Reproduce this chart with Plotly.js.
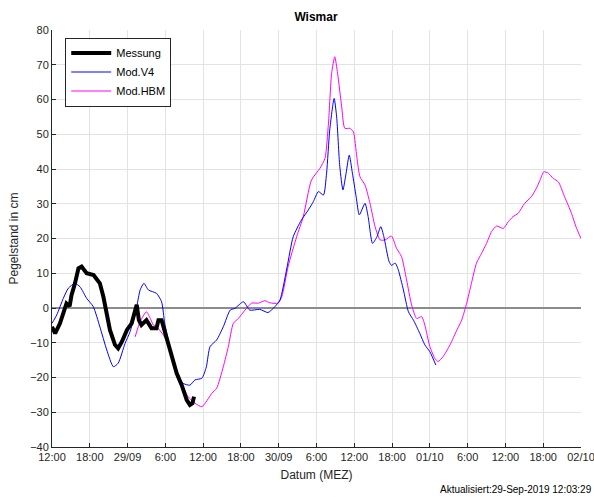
<!DOCTYPE html>
<html>
<head>
<meta charset="utf-8">
<script src="https://cdn.plot.ly/plotly-3.0.1.min.js"></script>
<style>html,body{margin:0;padding:0;background:#fff;}#chart{width:594px;height:497px;}</style>
</head>
<body>
<div id="chart"></div>
<script>
// hours since 28/09 12:00 (MEZ)
var tickHours = [0,6,12,18,24,30,36,42,48,54,60,66,72,78,84];
var tickLabels = ["12:00","18:00","29/09","6:00","12:00","18:00","30/09","6:00","12:00","18:00","01/10","6:00","12:00","18:00","02/10"];

var messHours = [0,0.5,1.27,1.8,2.3,2.8,3.1,3.65,4.2,4.7,5.5,6.6,7.1,7.6,8.15,8.7,9.2,10,10.5,11.1,11.9,12.65,13.2,13.45,13.8,14.2,15,15.8,16.6,16.9,17.4,17.7,18.2,19,19.8,20.6,21.4,21.9,22.3,22.55];
var messValues = [-5.4,-7.3,-4.4,-1,1.3,0.5,3.7,7.1,11.4,11.9,10,9.5,8.5,7.1,3.3,-1.5,-6.3,-10.6,-11.6,-9.7,-6.3,-4.4,-1.1,0.9,-3.5,-4.9,-3.5,-5.8,-5.8,-3.5,-3.5,-5.4,-9.2,-14,-18.8,-22.2,-26.5,-27.9,-27.4,-25.5];

var v4Hours = [0,0.75,1.8,2.6,3.65,4.45,5.5,6.55,7.6,8.7,9.75,10.5,11.6,12.4,13.45,14,14.6,15.3,16.6,17.4,17.9,18.7,19.8,20.85,21.9,22.7,23.8,24.5,25.1,26.15,27.2,28.3,29.05,30.4,31.4,33,34.3,35.4,36.2,37.3,38.3,39.6,40.7,41.5,42.3,43.1,43.6,44.1,44.8,45.2,45.7,46.2,46.7,47.2,47.7,48.3,48.8,49.7,50.2,50.9,51.6,52.2,52.7,53.5,53.9,54.5,55,55.8,56.6,57.4,58.4,59.2,60,60.95];
var v4Values = [-4.4,-2,2.8,5.7,7.1,6.1,2.8,0.4,-5.4,-12.1,-16.9,-15.9,-10.2,-6.8,0.4,5.2,7.1,5.2,4.2,1.8,-4.4,-11.1,-18.8,-21.7,-22.2,-20.7,-20.2,-17,-11.1,-9.2,-5.4,-0.6,-0.1,1.8,-0.6,-0.4,-1.3,0.4,2.3,11.5,20.5,25.3,28.2,30.6,33.5,32.5,38.8,51.2,60.3,55,40.7,34,38.8,44,38.8,32,26.8,30.1,26.3,18.6,20.5,23.4,20.5,13.5,12.3,12.9,10.9,5.2,-1.1,-3.5,-7.3,-10.6,-12.6,-16.4];

var hbmHours = [13.2,14,15,15.6,16.1,16.6,17.7,18.5,19.3,20.3,21.6,22.7,23.8,25.4,26.15,27.2,28,28.8,29.6,30.65,31.7,32.75,33.8,34.6,35.9,36.5,37.5,38.85,39.9,41.2,42.55,43.35,43.9,44.4,44.9,45.35,46,46.5,47.3,47.85,48.4,48.9,49.7,50.5,51.3,52.1,52.9,53.9,54.7,55.5,56.3,57.1,57.9,58.7,59.2,60,60.8,61.3,62.1,63.2,64.3,65.05,65.85,66.6,67.4,68.2,69,69.8,70.6,71.65,72.45,73.2,74,75.05,76.1,76.9,77.5,78.1,78.8,79.6,80.4,81.4,82.5,83.2,84];
var hbmValues = [-8.3,-3.9,-1.1,-3,-4.9,-5.4,-7.8,-11.1,-15.9,-20.7,-25.5,-27.4,-28.4,-24.5,-23.1,-16.9,-11.1,-4.4,-3,-0.6,1.4,1.4,2.1,1.5,1.4,3.3,12,20.5,26.3,36.8,40.2,43.1,53.2,67.5,72.3,67.5,57.9,51.7,51.7,50.7,43.5,37.8,35.4,30.1,23.4,19.6,19.6,20.7,17.2,14.8,8.1,0.9,-3,-2.5,-4.9,-11.1,-14.5,-15.4,-14,-10.6,-6.3,-3.5,1.4,7.1,12.9,15.7,18.6,22,23.6,22.9,24.8,26.3,27.2,30.1,32,34.4,36.8,39.2,38.8,37.3,36.3,32,27.2,23.4,20];

var FONT = "Liberation Sans, Arial, Helvetica, sans-serif";
var TXT = "#262626";

var traces = [
  {x: hbmHours, y: hbmValues, name: "Mod.HBM", mode: "lines",
   line: {color: "#ff00ff", width: 1, shape: "spline", smoothing: 0.6}},
  {x: v4Hours, y: v4Values, name: "Mod.V4", mode: "lines",
   line: {color: "#0000ff", width: 1, shape: "spline", smoothing: 0.6}},
  {x: messHours, y: messValues, name: "Messung", mode: "lines",
   line: {color: "#000000", width: 4}}
];

var layout = {
  width: 594, height: 497,
  margin: {l: 52, r: 13, t: 30, b: 50},
  paper_bgcolor: "#ffffff", plot_bgcolor: "#ffffff",
  font: {family: FONT, size: 11, color: TXT},
  title: {text: "<b>Wismar</b>", font: {family: FONT, size: 12, color: "#000"}, x: 0.532, xanchor: "center", y: 0.966, yanchor: "middle"},
  showlegend: true,
  legend: {x: 0.025, y: 0.982, xanchor: "left", yanchor: "top", traceorder: "reversed",
           bgcolor: "#ffffff", bordercolor: TXT, borderwidth: 1, itemwidth: 40,
           font: {family: FONT, size: 11, color: "#000"}, tracegroupgap: 0},
  xaxis: {
    range: [0, 84], tickmode: "array", tickvals: tickHours, ticktext: tickLabels,
    ticklabeloverflow: "allow",
    showgrid: true, gridcolor: "#e3e3e3", gridwidth: 1,
    showline: true, linecolor: TXT, linewidth: 1, mirror: false,
    ticks: "inside", ticklen: 4, tickcolor: TXT, zeroline: false,
    tickfont: {family: FONT, size: 11, color: TXT},
    title: {text: "Datum (MEZ)", font: {family: FONT, size: 12, color: TXT}, standoff: 8}
  },
  yaxis: {
    range: [-40, 80], dtick: 10, tick0: 0,
    showgrid: true, gridcolor: "#e3e3e3", gridwidth: 1,
    showline: true, linecolor: TXT, linewidth: 1, mirror: false,
    ticks: "inside", ticklen: 4, tickcolor: TXT,
    zeroline: true, zerolinecolor: "#8c8c8c", zerolinewidth: 1.5,
    tickfont: {family: FONT, size: 11, color: TXT},
    title: {text: "Pegelstand in cm", font: {family: FONT, size: 12, color: TXT}, standoff: 8}
  },
  annotations: [
    {text: "Aktualisiert:29-Sep-2019 12:03:29", xref: "paper", yref: "paper",
     x: 0.7297, y: -0.103, xanchor: "left", yanchor: "middle", showarrow: false,
     font: {family: FONT, size: 10, color: "#000"}}
  ]
};

Plotly.newPlot("chart", traces, layout, {staticPlot: true, displayModeBar: false});
</script>
</body>
</html>
